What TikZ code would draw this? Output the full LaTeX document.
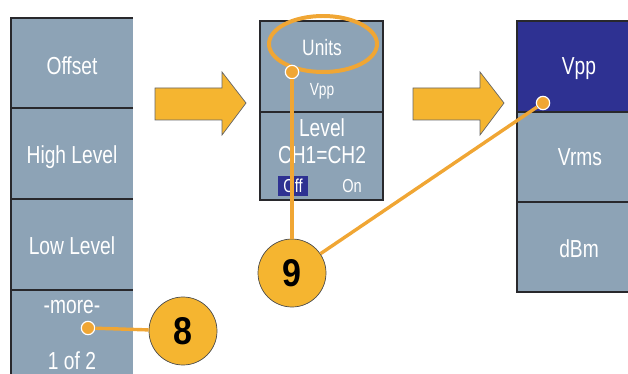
\documentclass[tikz,border=0pt]{standalone}
\usepackage{fontspec}
\newfontfamily\panelfont{Liberation Sans}[FakeStretch=0.78]
\newfontfamily\numfont{Liberation Sans}[FakeStretch=0.88]
\definecolor{panelgray}{RGB}{141,163,182}
\definecolor{selblue}{RGB}{46,49,146}
\definecolor{framegray}{RGB}{40,40,44}
\definecolor{badgeorange}{RGB}{245,181,48}
\definecolor{lineorange}{RGB}{240,166,52}
\tikzset{
  lbl/.style={text=white, font=\panelfont\fontsize{21}{24}\selectfont, anchor=base, inner sep=0pt},
  smalllbl/.style={lbl, font=\panelfont\fontsize{16}{18}\selectfont},
  frame/.style={draw=framegray, line width=1.5pt},
  callout/.style={draw=lineorange, line width=2.9pt},
  dot/.style={circle, fill=lineorange, draw=white, line width=1pt, inner sep=0pt, minimum size=0.4cm},
  badge/.style={circle, fill=badgeorange, draw=black!70, line width=0.6pt, minimum size=2.04cm, inner sep=0pt,
    font=\numfont\bfseries\fontsize{33}{36}\selectfont},
  bigarrow/.style={fill=badgeorange, draw=black!60, line width=0.6pt}
}
\begin{document}
\begin{tikzpicture}[x=0.03cm, y=-0.03cm]
\useasboundingbox (0,0) rectangle (628,374);
\clip (0,0) rectangle (628,374);
% left menu
\fill[panelgray] (11,18) rectangle (133,380);
\draw[frame] (11,380) -- (11,18) -- (133,18);
\foreach \y in {108,199,290} \draw[frame] (11,\y) -- (133,\y);
\node[lbl] (offset) at (72,75) {Offset};
\node[lbl] (high) at (72,164) {High Level};
\node[lbl] (low) at (72,254) {Low Level};
\node[lbl] (more) at (72,313) {-more-};
\node[lbl] (page) at (72,369) {1 of 2};
% middle menu
\fill[panelgray] (260,21) rectangle (383,200);
\draw[frame] (260,21) rectangle (383,200);
\draw[frame] (260,112) -- (383,112);
\node[lbl, font=\panelfont\fontsize{19}{22}\selectfont] (units) at (322,56) {Units};
\node[smalllbl, font=\panelfont\fontsize{15}{18}\selectfont] (unitval) at (322,96) {Vpp};
\node[lbl] (level) at (322,137) {Level};
\node[lbl] (chan) at (322,164) {CH1=CH2};
\fill[selblue] (278,176) rectangle (308,196);
\node[smalllbl] (off) at (293,193) {Off};
\node[smalllbl] (on) at (352,193) {On};
% right menu
\fill[panelgray] (517,21) rectangle (640,292);
\fill[selblue] (517,21) rectangle (640,112);
\draw[frame] (517,21) rectangle (640,292);
\foreach \y in {112,202} \draw[frame] (517,\y) -- (640,\y);
\node[lbl] (vpp) at (579,75) {Vpp};
\node[lbl] (vrms) at (580,166) {Vrms};
\node[lbl] (dbm) at (579,257) {dBm};
% arrows between menus
\draw[bigarrow] (155,88) -- (222,88) -- (222,72) -- (246,103) -- (222,135) -- (222,120) -- (155,120) -- cycle;
\draw[bigarrow] (413,88) -- (480,88) -- (480,72) -- (504,103) -- (480,135) -- (480,120) -- (413,120) -- cycle;
% callouts
\draw[draw=lineorange, line width=3.4pt] (323,44) ellipse [x radius=54, y radius=28];
\node[badge] (c8) at (183,331) {8};
\node[badge] (c9) at (292,273) {9};
\node[dot] (d8) at (88,328) {};
\node[dot] (d9a) at (292,72) {};
\node[dot] (d9b) at (543,103) {};
\draw[callout] (d8) -- (c8);
\draw[callout] (d9a) -- (c9);
\draw[callout] (d9b) -- (c9);
\end{tikzpicture}
\end{document}
